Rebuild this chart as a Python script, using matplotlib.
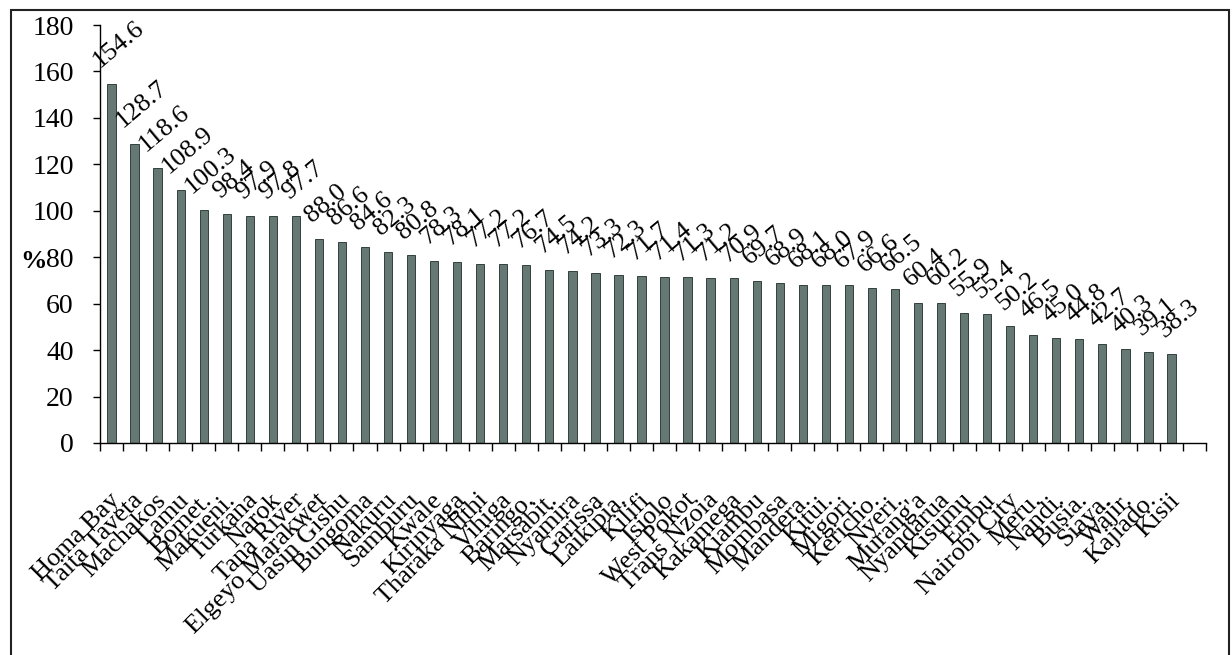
import matplotlib
matplotlib.use("Agg")
import matplotlib.pyplot as plt
import numpy as np
from matplotlib.patches import Rectangle

# County values (%)
counties = [
    "Homa Bay", "Taita Taveta", "Machakos", "Lamu", "Bomet.", "Makueni.",
    "Turkana", "Narok", "Tana River", "Elgeyo Marakwet", "Uasin Gishu",
    "Bungoma", "Nakuru", "Samburu", "Kwale", "Kirinyaga", "Tharaka Nithi",
    "Vihiga", "Baringo.", "Marsabit.", "Nyamira", "Garissa", "Laikipia.",
    "Kilifi", "Isiolo", "West Pokot", "Trans Nzoia", "Kakamega", "Kiambu",
    "Mombasa", "Mandera.", "Kitui.", "Migori.", "Kericho.", "Nyeri.",
    "Murang'a", "Nyandarua", "Kisumu", "Embu", "Nairobi City", "Meru.",
    "Nandi.", "Busia.", "Siaya.", "Wajir.", "Kajiado.", "Kisii",
]
values = [
    154.6, 128.7, 118.6, 108.9, 100.3, 98.4, 97.9, 97.8, 97.7, 88.0, 86.6,
    84.6, 82.3, 80.8, 78.3, 78.1, 77.2, 77.2, 76.7, 74.5, 74.2, 73.3, 72.3,
    71.7, 71.4, 71.3, 71.2, 70.9, 69.7, 68.9, 68.1, 68.0, 67.9, 66.6, 66.5,
    60.4, 60.2, 55.9, 55.4, 50.2, 46.5, 45.0, 44.8, 42.7, 40.3, 39.1, 38.3,
]
y_ticks = [0, 20, 40, 60, 80, 100, 120, 140, 160, 180]

plt.rcParams["font.family"] = ["Liberation Serif", "DejaVu Serif"]

fig = plt.figure(figsize=(12.32, 6.55), dpi=100)
ax = fig.add_axes([0.0812, 0.3237, 0.8977, 0.6381])

x = np.arange(len(counties))
ax.bar(x, values, width=0.36, color="#667873", edgecolor="#33413d", linewidth=0.7)

# one empty slot after the last county
ax.set_xlim(-0.5, len(counties) + 0.5)
ax.set_ylim(y_ticks[0], y_ticks[-1])
ax.set_yticks(y_ticks)
ax.tick_params(axis="y", direction="out", length=5, width=1, pad=14,
               labelsize=20)

ax.set_xticks(x)
ax.set_xticklabels([])
ax.set_xticks(np.arange(-0.5, len(counties) + 1, 1), minor=True)
ax.tick_params(axis="x", which="major", length=0)
ax.tick_params(axis="x", which="minor", direction="out", length=6, width=1)

for side in ("top", "right"):
    ax.spines[side].set_visible(False)
for side in ("left", "bottom"):
    ax.spines[side].set_linewidth(1)

# rotated value labels above each bar
for xi, v in zip(x, values):
    ax.annotate(f"{v:.1f}", (xi, v), xytext=(7, 12), textcoords="offset pixels",
                rotation=40, ha="center", va="bottom", fontsize=19)

# rotated county names under the axis
for xi, name in zip(x, counties):
    ax.annotate(name, (xi, 0), xycoords=("data", "axes fraction"),
                xytext=(-3, -46), textcoords="offset pixels", rotation=45,
                rotation_mode="anchor", ha="right", va="top", fontsize=19)

fig.text(0.027, 0.60, "%", fontsize=19, fontweight="bold",
         ha="center", va="center")

# chart frame
fig.patches.append(Rectangle((11 / 1232, -0.02), (1229 - 11) / 1232,
                             1 - 10 / 655 + 0.02, transform=fig.transFigure,
                             fill=False, edgecolor="#222222", linewidth=1.5))

fig.savefig("out.png", dpi=100)
